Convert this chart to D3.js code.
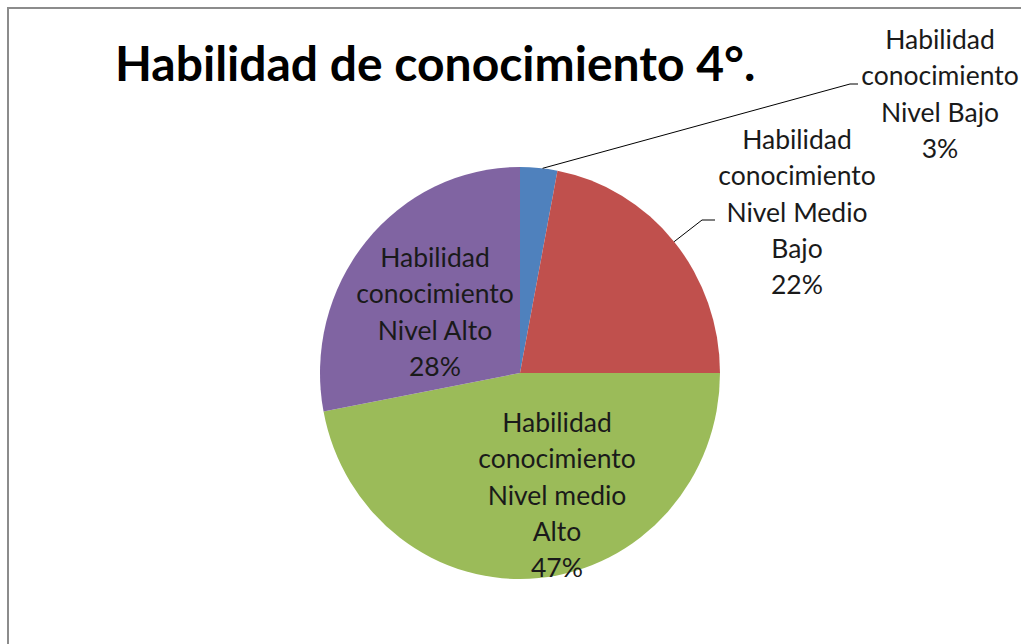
<!DOCTYPE html>
<html>
<head>
<meta charset="utf-8">
<script src="https://cdnjs.cloudflare.com/ajax/libs/d3/7.8.5/d3.min.js"></script>
<style>
  body { margin: 0; background: #fff; }
  text { font-family: Lato, "Open Sans", sans-serif; }
</style>
</head>
<body>
<div id="chart"></div>
<script>
// data
var categories = ["Habilidad conocimiento Nivel Bajo",
                  "Habilidad conocimiento Nivel Medio Bajo",
                  "Habilidad conocimiento Nivel medio Alto",
                  "Habilidad conocimiento Nivel Alto"];
var values = [3, 22, 47, 28];
var colors = ["#4f81bd", "#c0504d", "#9bbb59", "#8064a2"];
var labelLines = [["Habilidad", "conocimiento", "Nivel Bajo", "3%"],
                  ["Habilidad", "conocimiento", "Nivel Medio", "Bajo", "22%"],
                  ["Habilidad", "conocimiento", "Nivel medio", "Alto", "47%"],
                  ["Habilidad", "conocimiento", "Nivel Alto", "28%"]];

// where each label block sits (first line centre)
var labelPos = [[940, 40], [797, 140], [557, 423], [435, 258]];

var width = 1021, height = 644;
var svg = d3.select("#chart").append("svg")
    .attr("width", width)
    .attr("height", height);

// chart frame (cropped on right/bottom)
svg.append("rect")
    .attr("x", 8).attr("y", 8)
    .attr("width", width + 20).attr("height", height + 20)
    .attr("fill", "#fff")
    .attr("stroke", "#8c8c8c")
    .attr("stroke-width", 2);

svg.append("text")
    .attr("x", 115).attr("y", 81)
    .attr("font-size", 48)
    .attr("font-weight", "bold")
    .attr("fill", "#000")
    .text("Habilidad de conocimiento 4°.");

var cx = 520, cy = 373, radius = 200;

var pie = d3.pie().sort(null).value(function(d) { return d; });
var arc = d3.arc().innerRadius(0).outerRadius(radius);

var g = svg.append("g")
    .attr("transform", "translate(" + cx + "," + cy + ") scale(1,1.03)");

var slices = pie(values);

g.selectAll("path")
    .data(slices)
    .enter().append("path")
    .attr("d", arc)
    .attr("fill", function(d, i) { return colors[i]; });

// leader lines for outside labels
var outer = d3.arc().innerRadius(radius).outerRadius(radius);
var leaders = [[[850, 84], [858, 84]], [[702, 220], [715, 220]]];
leaders.forEach(function(l, i) {
  var c = outer.centroid(slices[i]);
  var p0 = [cx + c[0], cy + c[1] * 1.03];
  if (i == 0) { // Excel points it a bit right of the slice middle
    p0 = [cx + radius * Math.sin(slices[i].endAngle * 0.6), cy - radius * 1.03 * Math.cos(slices[i].endAngle * 0.6)];
  }
  svg.append("polyline")
    .attr("points", [p0, l[0], l[1]].map(function(p) { return p.join(","); }).join(" "))
    .attr("fill", "none")
    .attr("stroke", "#000")
    .attr("stroke-width", 1);
});

labelLines.forEach(function(lines, i) {
  var t = svg.append("text")
      .attr("text-anchor", "middle")
      .attr("font-size", 26.5)
      .attr("fill", "#1a1a1a");
  lines.forEach(function(s, j) {
    t.append("tspan")
      .attr("x", labelPos[i][0])
      .attr("y", labelPos[i][1] + 9 + j * 36.3)
      .text(s);
  });
});
</script>
</body>
</html>
